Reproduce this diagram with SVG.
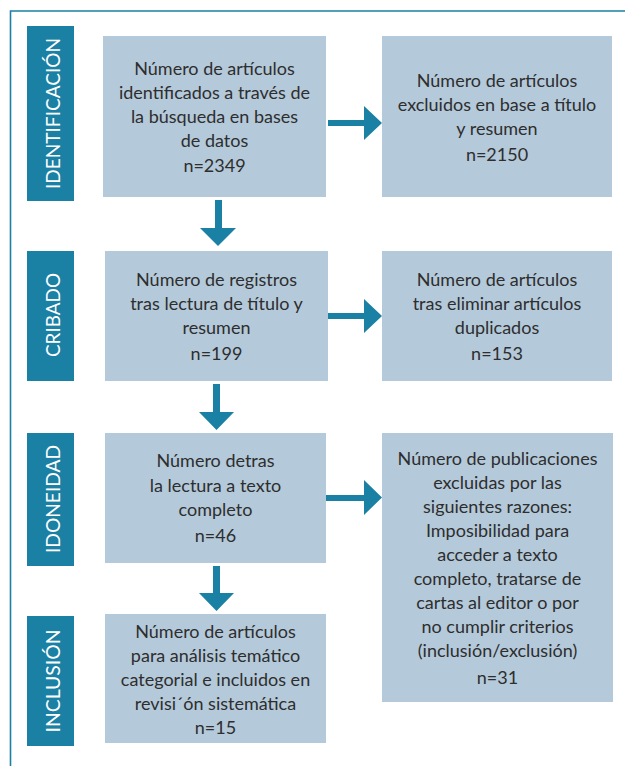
<svg xmlns="http://www.w3.org/2000/svg" width="625" height="766" viewBox="0 0 625 766">
<style>
.box{fill:#b4c9da}
.lab{fill:#1a80a4}
.arr{fill:#1a80a4}
.t{font-family:Lato,"Open Sans","Liberation Sans",sans-serif;font-size:18px;fill:#2e2e2e;text-anchor:middle}
.l{font-family:Lato,"Open Sans","Liberation Sans",sans-serif;font-size:19.5px;fill:#ffffff;text-anchor:middle}
</style>
<rect width="625" height="766" fill="#ffffff"/>
<path d="M10.5 766 V11 H625" fill="none" stroke="#1a80a4" stroke-width="1.6"/>

<g id="label-identificacion"><rect class="lab" x="27" y="26" width="47" height="175"/><text class="l" transform="translate(59.5 113.5) rotate(-90)" textLength="151" lengthAdjust="spacingAndGlyphs">IDENTIFICACIÓN</text></g>
<g id="label-cribado"><rect class="lab" x="27" y="251" width="47" height="130"/><text class="l" transform="translate(59.5 315) rotate(-90)" textLength="84" lengthAdjust="spacingAndGlyphs">CRIBADO</text></g>
<g id="label-idoneidad"><rect class="lab" x="27" y="433" width="47" height="133"/><text class="l" transform="translate(59.5 499) rotate(-90)" textLength="108" lengthAdjust="spacingAndGlyphs">IDONEIDAD</text></g>
<g id="label-inclusion"><rect class="lab" x="27" y="616" width="47" height="130"/><text class="l" transform="translate(59.5 681) rotate(-90)" textLength="103" lengthAdjust="spacingAndGlyphs">INCLUSIÓN</text></g>

<g id="box1"><rect class="box" x="103" y="36" width="223" height="161"/>
<text class="t"><tspan x="214.5" y="75">Número de artículos</tspan><tspan x="214.5" y="99">identificados a través de</tspan><tspan x="214.5" y="123">la búsqueda en bases</tspan><tspan x="214.5" y="147">de datos</tspan><tspan x="214.5" y="172">n=2349</tspan></text></g>

<g id="box2"><rect class="box" x="382" y="36" width="230" height="161"/>
<text class="t"><tspan x="497" y="87">Número de artículos</tspan><tspan x="497" y="111">excluidos en base a título</tspan><tspan x="497" y="135">y resumen</tspan><tspan x="497" y="161">n=2150</tspan></text></g>

<g id="box3"><rect class="box" x="105" y="251" width="223" height="130"/>
<text class="t"><tspan x="216.5" y="286">Número de registros</tspan><tspan x="216.5" y="310">tras lectura de título y</tspan><tspan x="216.5" y="334">resumen</tspan><tspan x="216.5" y="360">n=199</tspan></text></g>

<g id="box4"><rect class="box" x="382" y="251" width="230" height="130"/>
<text class="t"><tspan x="497" y="286">Número de artículos</tspan><tspan x="497" y="310">tras eliminar artículos</tspan><tspan x="497" y="334">duplicados</tspan><tspan x="497" y="360">n=153</tspan></text></g>

<g id="box5"><rect class="box" x="105" y="433" width="221" height="130"/>
<text class="t"><tspan x="215.5" y="467">Número detras</tspan><tspan x="215.5" y="491.5">la lectura a texto</tspan><tspan x="215.5" y="515.5">completo</tspan><tspan x="215.5" y="541.5">n=46</tspan></text></g>

<g id="box6"><rect class="box" x="382" y="433" width="231" height="269"/>
<text class="t"><tspan x="497.5" y="464.5">Número de publicaciones</tspan><tspan x="497.5" y="488.5">excluidas por las</tspan><tspan x="497.5" y="512.5">siguientes razones:</tspan><tspan x="497.5" y="536.5">Imposibilidad para</tspan><tspan x="497.5" y="560.5">acceder a texto</tspan><tspan x="497.5" y="584.5">completo, tratarse de</tspan><tspan x="497.5" y="608.5">cartas al editor o por</tspan><tspan x="497.5" y="632.5">no cumplir criterios</tspan><tspan x="497.5" y="656.5">(inclusión/exclusión)</tspan><tspan x="497.5" y="684">n=31</tspan></text></g>

<g id="box7"><rect class="box" x="105" y="614" width="221" height="129"/>
<text class="t"><tspan x="215.5" y="638">Número de artículos</tspan><tspan x="215.5" y="662">para análisis temático</tspan><tspan x="215.5" y="686">categorial e incluidos en</tspan><tspan x="215.5" y="710">revisi´ón sistemática</tspan><tspan x="215.5" y="734">n=15</tspan></text></g>

<g id="connectors">
<polygon class="arr" points="328,120 364,120 364,106 382,123 364,140 364,126 328,126"/>
<polygon class="arr" points="328,313 364,313 364,299 382,316 364,333 364,319 328,319"/>
<polygon class="arr" points="326,495 364,495 364,480 382,497.5 364,515 364,501 326,501"/>
<polygon class="arr" points="215,200 222,200 222,228 236,228 218,246 200,228 215,228"/>
<polygon class="arr" points="213,384 220,384 220,412 234,412 216.5,430 199,412 213,412"/>
<polygon class="arr" points="213,566 220,566 220,593 234,593 216.5,611 199,593 213,593"/>
</g>
</svg>
